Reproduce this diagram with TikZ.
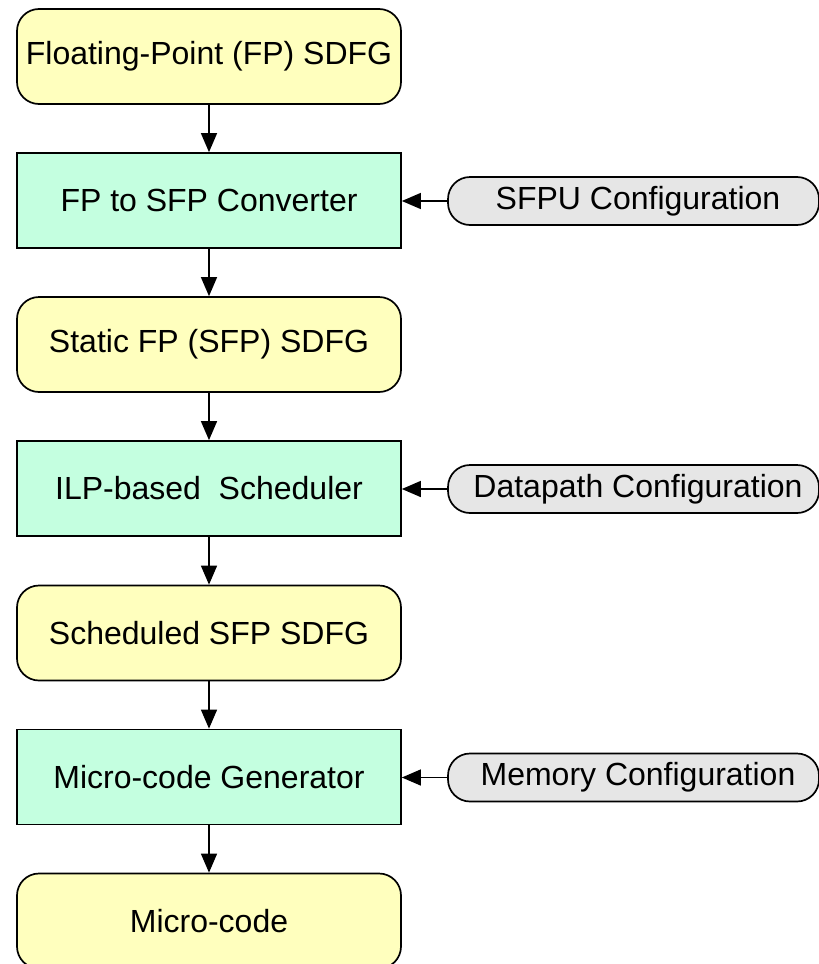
\documentclass[tikz,border=0pt]{standalone}
\usepackage{fontspec}
\setmainfont{Liberation Sans}
\usetikzlibrary{arrows.meta}

\definecolor{dataYellow}{RGB}{255,255,190}
\definecolor{toolGreen}{RGB}{196,255,224}
\definecolor{cfgGray}{RGB}{230,230,230}

\tikzset{
  base/.style={draw=black, line width=1.7pt, minimum width=384pt,
    minimum height=95pt, inner sep=0pt, font=\fontsize{32}{36}\selectfont},
  databox/.style={base, fill=dataYellow, rounded corners=22pt},
  toolbox/.style={base, fill=toolGreen},
  cfgpill/.style={draw=black, line width=1.7pt, fill=cfgGray,
    rounded corners=22pt, minimum width=371pt, minimum height=48pt,
    inner sep=0pt, font=\fontsize{32}{36}\selectfont},
  flow/.style={line width=1.4pt, -{Triangle[length=19pt,width=16pt]}}
}

\begin{document}
\begin{tikzpicture}[x=1pt, y=-1pt]
  \useasboundingbox (0,0) rectangle (819,964);
  \clip (0,0) rectangle (819,964);

  % main flow
  \node[databox] (fpsdfg)  at (209,56.5)  {Floating-Point (FP) SDFG};
  \node[toolbox] (conv)    at (209,200.5) {FP to SFP Converter};
  \node[databox] (sfpsdfg) at (209,344.5) {Static FP (SFP) SDFG};
  \node[toolbox] (sched)   at (209,488.5) {ILP-based\ \ Scheduler};
  \node[databox] (schsdfg) at (209,633)   {Scheduled SFP SDFG};
  \node[toolbox] (mcgen)   at (209,777)   {Micro-code Generator};
  \node[databox] (mcode)   at (209,921)   {Micro-code};

  % configuration inputs
  \node[cfgpill] (sfpu) at (633.5,201)   {\hspace*{9pt}SFPU Configuration};
  \node[cfgpill] (dp)   at (633.5,489)   {\hspace*{9pt}Datapath Configuration};
  \node[cfgpill] (mem)  at (633.5,777.5) {\hspace*{9pt}Memory Configuration};

  \draw[flow] (fpsdfg)  -- (conv);
  \draw[flow] (conv)    -- (sfpsdfg);
  \draw[flow] (sfpsdfg) -- (sched);
  \draw[flow] (sched)   -- (schsdfg);
  \draw[flow] (schsdfg) -- (mcgen);
  \draw[flow] (mcgen)   -- (mcode);

  \draw[flow] (sfpu.west) -- (conv.east |- sfpu.west);
  \draw[flow] (dp.west)   -- (sched.east |- dp.west);
  \draw[flow] (mem.west)  -- (mcgen.east |- mem.west);
\end{tikzpicture}
\end{document}
